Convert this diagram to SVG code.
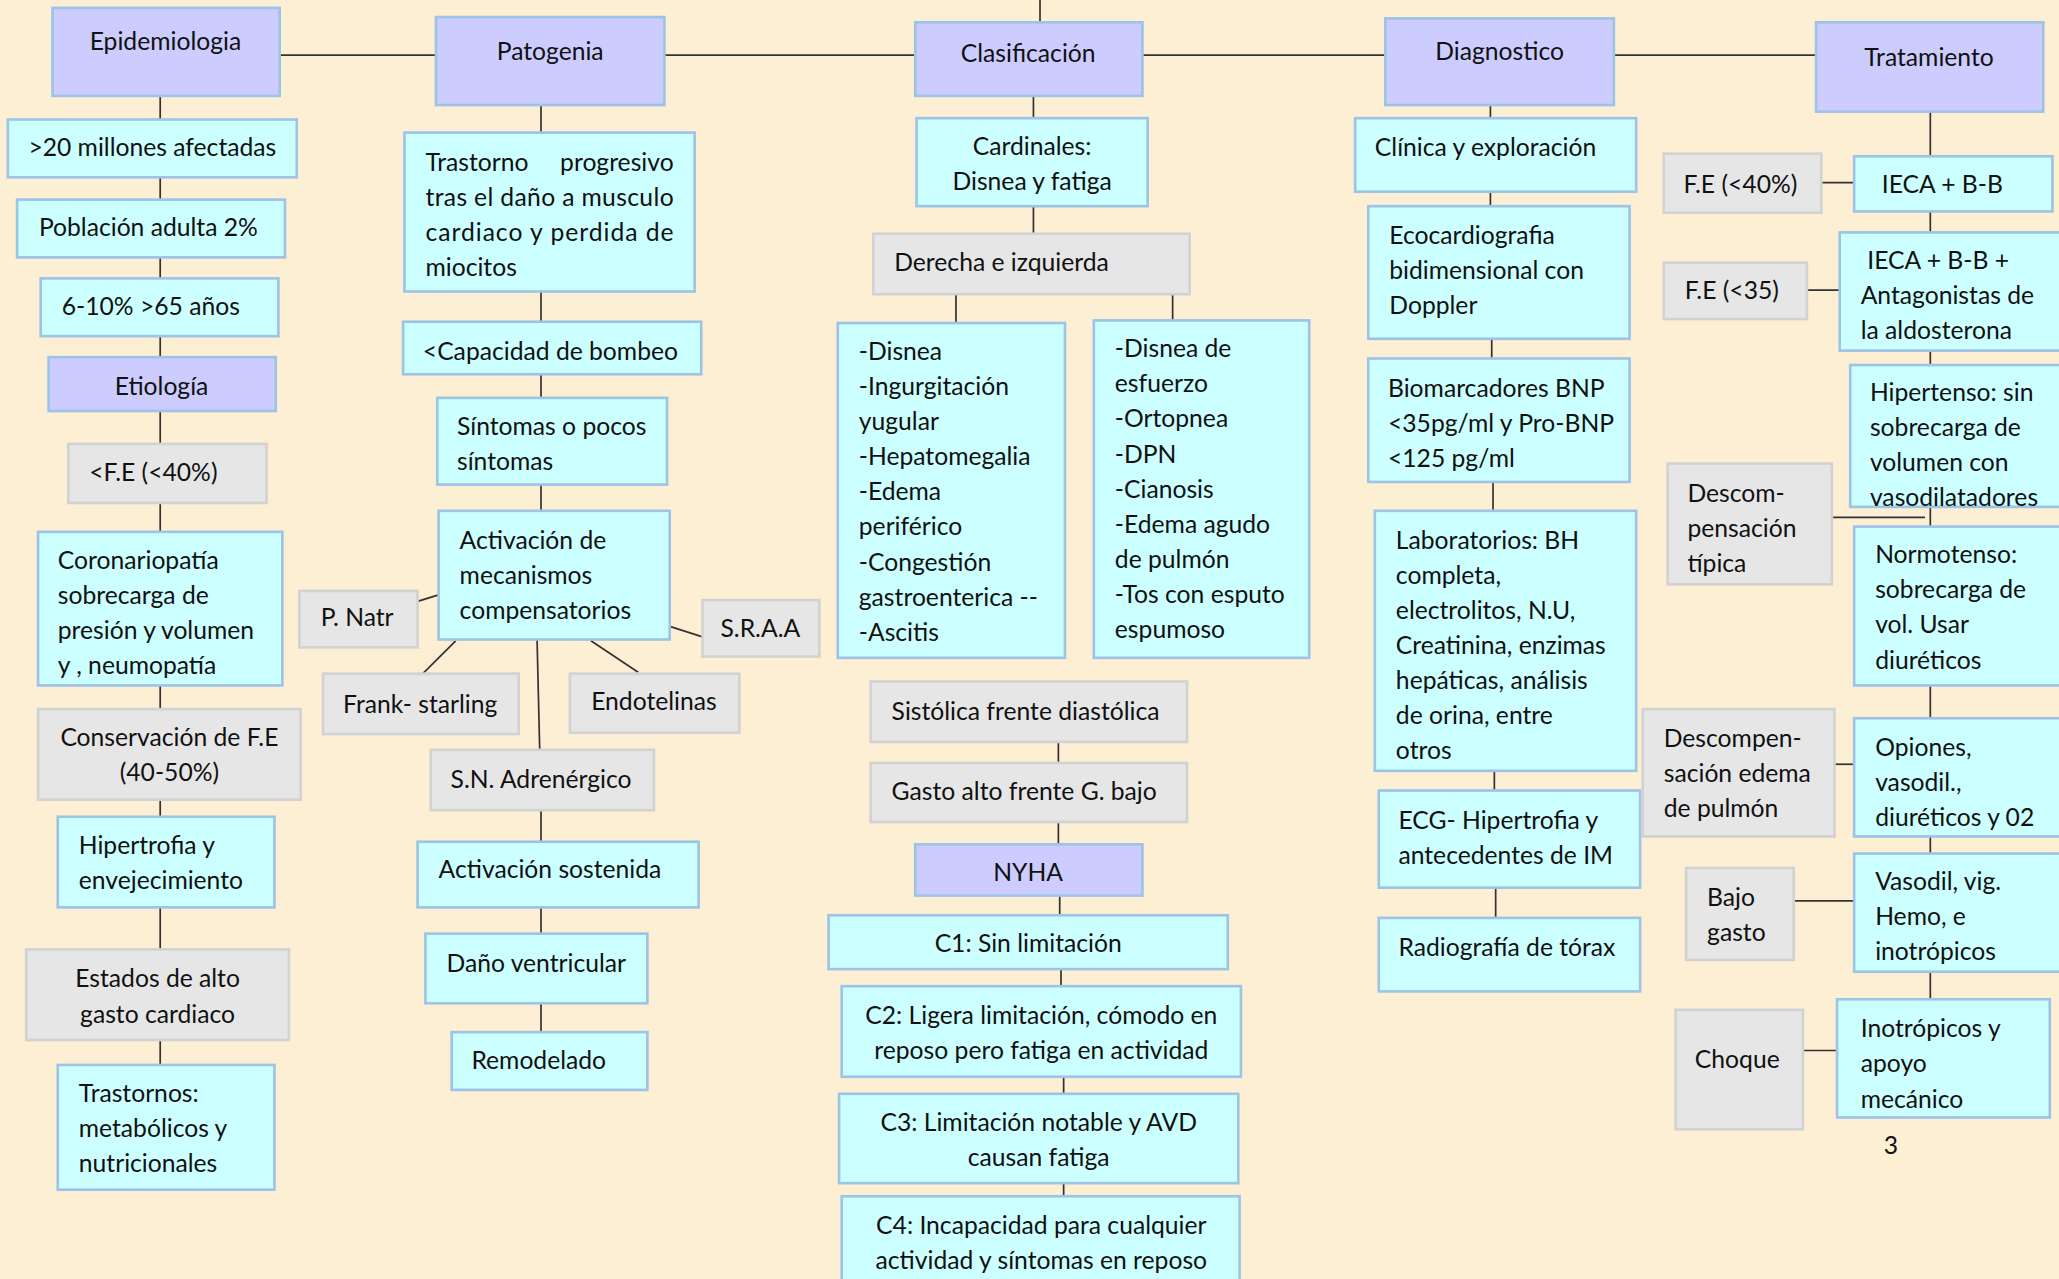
<svg xmlns="http://www.w3.org/2000/svg" width="2059" height="1279" viewBox="0 0 2059 1279">
<defs>
<style>
.p{fill:#CCCCFF;stroke:#9DC3E6;stroke-width:2}
.c{fill:#CCFFFF;stroke:#9DC3E6;stroke-width:2}
.g{fill:#E6E6E6;stroke:#D2D2D2;stroke-width:2}
text{font-family:Lato,"Liberation Sans",sans-serif;font-size:18.8px;fill:#111}
.m{text-anchor:middle}
.e{text-anchor:end}
#connectors line{stroke:#333;stroke-width:1.3}
</style>
<clipPath id="clipH"><rect x="1409" y="278" width="162" height="108"/></clipPath>
</defs>
<rect x="0" y="0" width="2059" height="1279" fill="#FCEFD4"/>
<g transform="scale(1.313138)">
<g id="connectors">
<line x1="213" y1="42" x2="332" y2="42"/>
<line x1="506" y1="42" x2="697" y2="42"/>
<line x1="870" y1="42" x2="1055" y2="42"/>
<line x1="1229" y1="42" x2="1383" y2="42"/>
<line x1="792" y1="0" x2="792" y2="17"/>
<line x1="122" y1="73" x2="122" y2="91"/>
<line x1="122" y1="135" x2="122" y2="152"/>
<line x1="122" y1="196" x2="122" y2="212"/>
<line x1="122" y1="256" x2="122" y2="272"/>
<line x1="122" y1="313" x2="122" y2="338"/>
<line x1="122" y1="383" x2="122" y2="405"/>
<line x1="122" y1="522" x2="122" y2="540"/>
<line x1="122" y1="609" x2="122" y2="622"/>
<line x1="122" y1="691" x2="122" y2="723"/>
<line x1="122" y1="792" x2="122" y2="811"/>
<line x1="412" y1="80" x2="412" y2="101"/>
<line x1="412" y1="222" x2="412" y2="245"/>
<line x1="412" y1="285" x2="412" y2="303"/>
<line x1="412" y1="369" x2="412" y2="389"/>
<line x1="334" y1="453" x2="318" y2="458"/>
<line x1="510" y1="477" x2="535" y2="485"/>
<line x1="347" y1="488" x2="322" y2="513"/>
<line x1="450" y1="488" x2="486" y2="512"/>
<line x1="409" y1="487" x2="411" y2="571"/>
<line x1="412" y1="617" x2="412" y2="641"/>
<line x1="412" y1="691" x2="412" y2="711"/>
<line x1="412" y1="764" x2="412" y2="786"/>
<line x1="787" y1="73" x2="787" y2="90"/>
<line x1="787" y1="157" x2="787" y2="178"/>
<line x1="728" y1="224" x2="728" y2="246"/>
<line x1="893" y1="224" x2="893" y2="244"/>
<line x1="806" y1="565" x2="806" y2="581"/>
<line x1="806" y1="626" x2="806" y2="643"/>
<line x1="807" y1="682" x2="807" y2="697"/>
<line x1="808" y1="738" x2="808" y2="751"/>
<line x1="810" y1="820" x2="810" y2="833"/>
<line x1="810" y1="901" x2="810" y2="911"/>
<line x1="1135" y1="80" x2="1135" y2="90"/>
<line x1="1135" y1="146" x2="1135" y2="157"/>
<line x1="1136" y1="258" x2="1136" y2="273"/>
<line x1="1137" y1="367" x2="1137" y2="389"/>
<line x1="1138" y1="587" x2="1138" y2="602"/>
<line x1="1139" y1="676" x2="1139" y2="699"/>
<line x1="1470" y1="85" x2="1470" y2="119"/>
<line x1="1470" y1="161" x2="1470" y2="177"/>
<line x1="1470" y1="267" x2="1470" y2="278"/>
<line x1="1470" y1="386" x2="1470" y2="401"/>
<line x1="1470" y1="522" x2="1470" y2="547"/>
<line x1="1470" y1="637" x2="1470" y2="650"/>
<line x1="1470" y1="740" x2="1470" y2="761"/>
<line x1="1387" y1="139" x2="1412" y2="139"/>
<line x1="1376" y1="221" x2="1401" y2="221"/>
<line x1="1395" y1="394" x2="1466" y2="394"/>
<line x1="1397" y1="582" x2="1412" y2="582"/>
<line x1="1366" y1="686" x2="1412" y2="686"/>
<line x1="1373" y1="800" x2="1399" y2="800"/>
</g>

<g id="epidemiologia"><rect class="p" x="40" y="6" width="173" height="67"/><text class="m" x="126" y="38">Epidemiologia</text></g>
<g id="millones"><rect class="c" x="6" y="91" width="220" height="44"/><text class="m" x="116" y="119">&gt;20 millones afectadas</text></g>
<g id="poblacion"><rect class="c" x="13" y="152" width="204" height="44"/><text class="m" x="113" y="180">Población adulta 2%</text></g>
<g id="mayores65"><rect class="c" x="31" y="212" width="181" height="44"/><text x="47" y="240">6-10% &gt;65 años</text></g>
<g id="etiologia"><rect class="p" x="37" y="272" width="173" height="41"/><text class="m" x="123" y="301">Etiología</text></g>
<g id="fe40"><rect class="g" x="52" y="338" width="151" height="45"/><text x="68" y="366">&lt;F.E (&lt;40%)</text></g>
<g id="coronariopatia"><rect class="c" x="29" y="405" width="186" height="117"/><text x="44" y="433"><tspan x="44">Coronariopatía</tspan><tspan x="44" dy="26.7">sobrecarga de</tspan><tspan x="44" dy="26.7">presión y volumen</tspan><tspan x="44" dy="26.7">y , neumopatía</tspan></text></g>
<g id="conservacion"><rect class="g" x="29" y="540" width="200" height="69"/><text class="m" x="129" y="568"><tspan x="129">Conservación de F.E</tspan><tspan x="129" dy="26.7">(40-50%)</tspan></text></g>
<g id="hipertrofia"><rect class="c" x="44" y="622" width="165" height="69"/><text x="60" y="650"><tspan x="60">Hipertrofia y</tspan><tspan x="60" dy="26.7">envejecimiento</tspan></text></g>
<g id="altogasto"><rect class="g" x="20" y="723" width="200" height="69"/><text class="m" x="120" y="752"><tspan x="120">Estados de alto</tspan><tspan x="120" dy="26.7">gasto cardiaco</tspan></text></g>
<g id="trastornos"><rect class="c" x="44" y="811" width="165" height="95"/><text x="60" y="839"><tspan x="60">Trastornos:</tspan><tspan x="60" dy="26.7">metabólicos y</tspan><tspan x="60" dy="26.7">nutricionales</tspan></text></g>

<g id="patogenia"><rect class="p" x="332" y="13" width="174" height="67"/><text class="m" x="419" y="46">Patogenia</text></g>
<g id="trastorno-progresivo"><rect class="c" x="308" y="101" width="221" height="121"/><text x="324" y="130">Trastorno</text><text class="e" x="513" y="130">progresivo</text><text x="324" y="156.7" textLength="189" lengthAdjust="spacing">tras el daño a musculo</text><text x="324" y="183.4" textLength="189" lengthAdjust="spacing">cardiaco y perdida de</text><text x="324" y="210.1">miocitos</text></g>
<g id="capacidad"><rect class="c" x="307" y="245" width="227" height="40"/><text x="322" y="274">&lt;Capacidad de bombeo</text></g>
<g id="sintomas"><rect class="c" x="333" y="303" width="175" height="66"/><text x="348" y="331"><tspan x="348">Síntomas o pocos</tspan><tspan x="348" dy="26.7">síntomas</tspan></text></g>
<g id="activacion"><rect class="c" x="334" y="389" width="176" height="98"/><text x="350" y="418"><tspan x="350">Activación de</tspan><tspan x="350" dy="26.7">mecanismos</tspan><tspan x="350" dy="26.7">compensatorios</tspan></text></g>
<g id="pnatr"><rect class="g" x="228" y="450" width="90" height="43"/><text class="m" x="272" y="477">P. Natr</text></g>
<g id="sraa"><rect class="g" x="535" y="457" width="89" height="43"/><text class="m" x="579" y="485">S.R.A.A</text></g>
<g id="frank"><rect class="g" x="246" y="513" width="149" height="46"/><text class="m" x="320" y="543">Frank- starling</text></g>
<g id="endotelinas"><rect class="g" x="434" y="513" width="129" height="45"/><text class="m" x="498" y="541">Endotelinas</text></g>
<g id="adrenergico"><rect class="g" x="328" y="571" width="170" height="46"/><text class="m" x="412" y="600">S.N. Adrenérgico</text></g>
<g id="sostenida"><rect class="c" x="318" y="641" width="214" height="50"/><text x="334" y="669">Activación sostenida</text></g>
<g id="dano"><rect class="c" x="324" y="711" width="169" height="53"/><text x="340" y="740">Daño ventricular</text></g>
<g id="remodelado"><rect class="c" x="344" y="786" width="149" height="44"/><text x="359" y="814">Remodelado</text></g>

<g id="clasificacion"><rect class="p" x="697" y="17" width="173" height="56"/><text class="m" x="783" y="47">Clasificación</text></g>
<g id="cardinales"><rect class="c" x="698" y="90" width="176" height="67"/><text class="m" x="786" y="118"><tspan x="786">Cardinales:</tspan><tspan x="786" dy="26.7">Disnea y fatiga</tspan></text></g>
<g id="derecha"><rect class="g" x="665" y="178" width="241" height="46"/><text x="681" y="206">Derecha e izquierda</text></g>
<g id="derecha-lista"><rect class="c" x="638" y="246" width="173" height="255"/><text x="654" y="274"><tspan x="654">-Disnea</tspan><tspan x="654" dy="26.75">-Ingurgitación</tspan><tspan x="654" dy="26.75">yugular</tspan><tspan x="654" dy="26.75">-Hepatomegalia</tspan><tspan x="654" dy="26.75">-Edema</tspan><tspan x="654" dy="26.75">periférico</tspan><tspan x="654" dy="26.75">-Congestión</tspan><tspan x="654" dy="26.75">gastroenterica --</tspan><tspan x="654" dy="26.75">-Ascitis</tspan></text></g>
<g id="izquierda-lista"><rect class="c" x="833" y="244" width="164" height="257"/><text x="849" y="272"><tspan x="849">-Disnea de</tspan><tspan x="849" dy="26.75">esfuerzo</tspan><tspan x="849" dy="26.75">-Ortopnea</tspan><tspan x="849" dy="26.75">-DPN</tspan><tspan x="849" dy="26.75">-Cianosis</tspan><tspan x="849" dy="26.75">-Edema agudo</tspan><tspan x="849" dy="26.75">de pulmón</tspan><tspan x="849" dy="26.75">-Tos con esputo</tspan><tspan x="849" dy="26.75">espumoso</tspan></text></g>
<g id="sistolica"><rect class="g" x="663" y="519" width="241" height="46"/><text x="679" y="548">Sistólica frente diastólica</text></g>
<g id="gasto"><rect class="g" x="663" y="581" width="241" height="45"/><text x="679" y="609">Gasto alto frente G. bajo</text></g>
<g id="nyha"><rect class="p" x="697" y="643" width="173" height="39"/><text class="m" x="783" y="671">NYHA</text></g>
<g id="c1"><rect class="c" x="631" y="697" width="304" height="41"/><text class="m" x="783" y="725">C1: Sin limitación</text></g>
<g id="c2"><rect class="c" x="641" y="751" width="304" height="69"/><text class="m" x="793" y="780"><tspan x="793">C2: Ligera limitación, cómodo en</tspan><tspan x="793" dy="26.7">reposo pero fatiga en actividad</tspan></text></g>
<g id="c3"><rect class="c" x="639" y="833" width="304" height="68"/><text class="m" x="791" y="861"><tspan x="791">C3: Limitación notable y AVD</tspan><tspan x="791" dy="26.7">causan fatiga</tspan></text></g>
<g id="c4"><rect class="c" x="641" y="911" width="303" height="72"/><text class="m" x="793" y="940"><tspan x="793">C4: Incapacidad para cualquier</tspan><tspan x="793" dy="26.7">actividad y síntomas en reposo</tspan></text></g>

<g id="diagnostico"><rect class="p" x="1055" y="14" width="174" height="66"/><text class="m" x="1142" y="46">Diagnostico</text></g>
<g id="clinica"><rect class="c" x="1032" y="90" width="214" height="56"/><text x="1047" y="119">Clínica y exploración</text></g>
<g id="eco"><rect class="c" x="1042" y="157" width="199" height="101"/><text x="1058" y="186"><tspan x="1058">Ecocardiografia</tspan><tspan x="1058" dy="26.7">bidimensional con</tspan><tspan x="1058" dy="26.7">Doppler</tspan></text></g>
<g id="biomarcadores"><rect class="c" x="1042" y="273" width="199" height="94"/><text x="1057" y="302"><tspan x="1057">Biomarcadores BNP</tspan><tspan x="1057" dy="26.7">&lt;35pg/ml y Pro-BNP</tspan><tspan x="1057" dy="26.7">&lt;125 pg/ml</tspan></text></g>
<g id="laboratorios"><rect class="c" x="1047" y="389" width="199" height="198"/><text x="1063" y="418"><tspan x="1063">Laboratorios: BH</tspan><tspan x="1063" dy="26.7">completa,</tspan><tspan x="1063" dy="26.7">electrolitos, N.U,</tspan><tspan x="1063" dy="26.7">Creatinina, enzimas</tspan><tspan x="1063" dy="26.7">hepáticas, análisis</tspan><tspan x="1063" dy="26.7">de orina, entre</tspan><tspan x="1063" dy="26.7">otros</tspan></text></g>
<g id="ecg"><rect class="c" x="1050" y="602" width="199" height="74"/><text x="1065" y="631"><tspan x="1065">ECG- Hipertrofia y</tspan><tspan x="1065" dy="26.7">antecedentes de IM</tspan></text></g>
<g id="radiografia"><rect class="c" x="1050" y="699" width="199" height="56"/><text x="1065" y="728">Radiografía de tórax</text></g>

<g id="tratamiento"><rect class="p" x="1383" y="17" width="173" height="68"/><text class="m" x="1469" y="50">Tratamiento</text></g>
<g id="ieca"><rect class="c" x="1412" y="119" width="151" height="42"/><text x="1433" y="147">IECA + B-B</text></g>
<g id="fe40-t"><rect class="g" x="1267" y="117" width="120" height="45"/><text x="1282" y="147">F.E (&lt;40%)</text></g>
<g id="ieca-ant"><rect class="c" x="1401" y="177" width="170" height="90"/><text x="1422" y="205"><tspan x="1422">IECA + B-B +</tspan><tspan x="1417" dy="26.7">Antagonistas de</tspan><tspan x="1417" dy="26.7">la aldosterona</tspan></text></g>
<g id="fe35"><rect class="g" x="1267" y="200" width="109" height="43"/><text x="1283" y="228">F.E (&lt;35)</text></g>
<g id="hipertenso"><rect class="c" x="1409" y="278" width="162" height="108"/><text x="1424" y="305" clip-path="url(#clipH)"><tspan x="1424">Hipertenso: sin</tspan><tspan x="1424" dy="26.7">sobrecarga de</tspan><tspan x="1424" dy="26.7">volumen con</tspan><tspan x="1424" dy="26.7">vasodilatadores</tspan></text></g>
<g id="descompensacion"><rect class="g" x="1270" y="353" width="125" height="92"/><text x="1285" y="382"><tspan x="1285">Descom-</tspan><tspan x="1285" dy="26.7">pensación</tspan><tspan x="1285" dy="26.7">típica</tspan></text></g>
<g id="normotenso"><rect class="c" x="1412" y="401" width="159" height="121"/><text x="1428" y="429"><tspan x="1428">Normotenso:</tspan><tspan x="1428" dy="26.7">sobrecarga de</tspan><tspan x="1428" dy="26.7">vol. Usar</tspan><tspan x="1428" dy="26.7">diuréticos</tspan></text></g>
<g id="edema-pulmon"><rect class="g" x="1251" y="540" width="146" height="97"/><text x="1267" y="569"><tspan x="1267">Descompen-</tspan><tspan x="1267" dy="26.7">sación edema</tspan><tspan x="1267" dy="26.7">de pulmón</tspan></text></g>
<g id="opiones"><rect class="c" x="1412" y="547" width="159" height="90"/><text x="1428" y="576"><tspan x="1428">Opiones,</tspan><tspan x="1428" dy="26.7">vasodil.,</tspan><tspan x="1428" dy="26.7">diuréticos y 02</tspan></text></g>
<g id="bajo-gasto"><rect class="g" x="1284" y="661" width="82" height="70"/><text x="1300" y="690"><tspan x="1300">Bajo</tspan><tspan x="1300" dy="26.7">gasto</tspan></text></g>
<g id="vasodil"><rect class="c" x="1412" y="650" width="159" height="90"/><text x="1428" y="678"><tspan x="1428">Vasodil, vig.</tspan><tspan x="1428" dy="26.7">Hemo, e</tspan><tspan x="1428" dy="26.7">inotrópicos</tspan></text></g>
<g id="choque"><rect class="g" x="1276" y="769" width="97" height="91"/><text class="m" x="1323" y="813">Choque</text></g>
<g id="inotropicos"><rect class="c" x="1399" y="761" width="162" height="90"/><text x="1417" y="790"><tspan x="1417">Inotrópicos y</tspan><tspan x="1417" dy="26.7">apoyo</tspan><tspan x="1417" dy="26.7">mecánico</tspan></text></g>
<text class="m" x="1440" y="879">3</text>
</g>
</svg>
